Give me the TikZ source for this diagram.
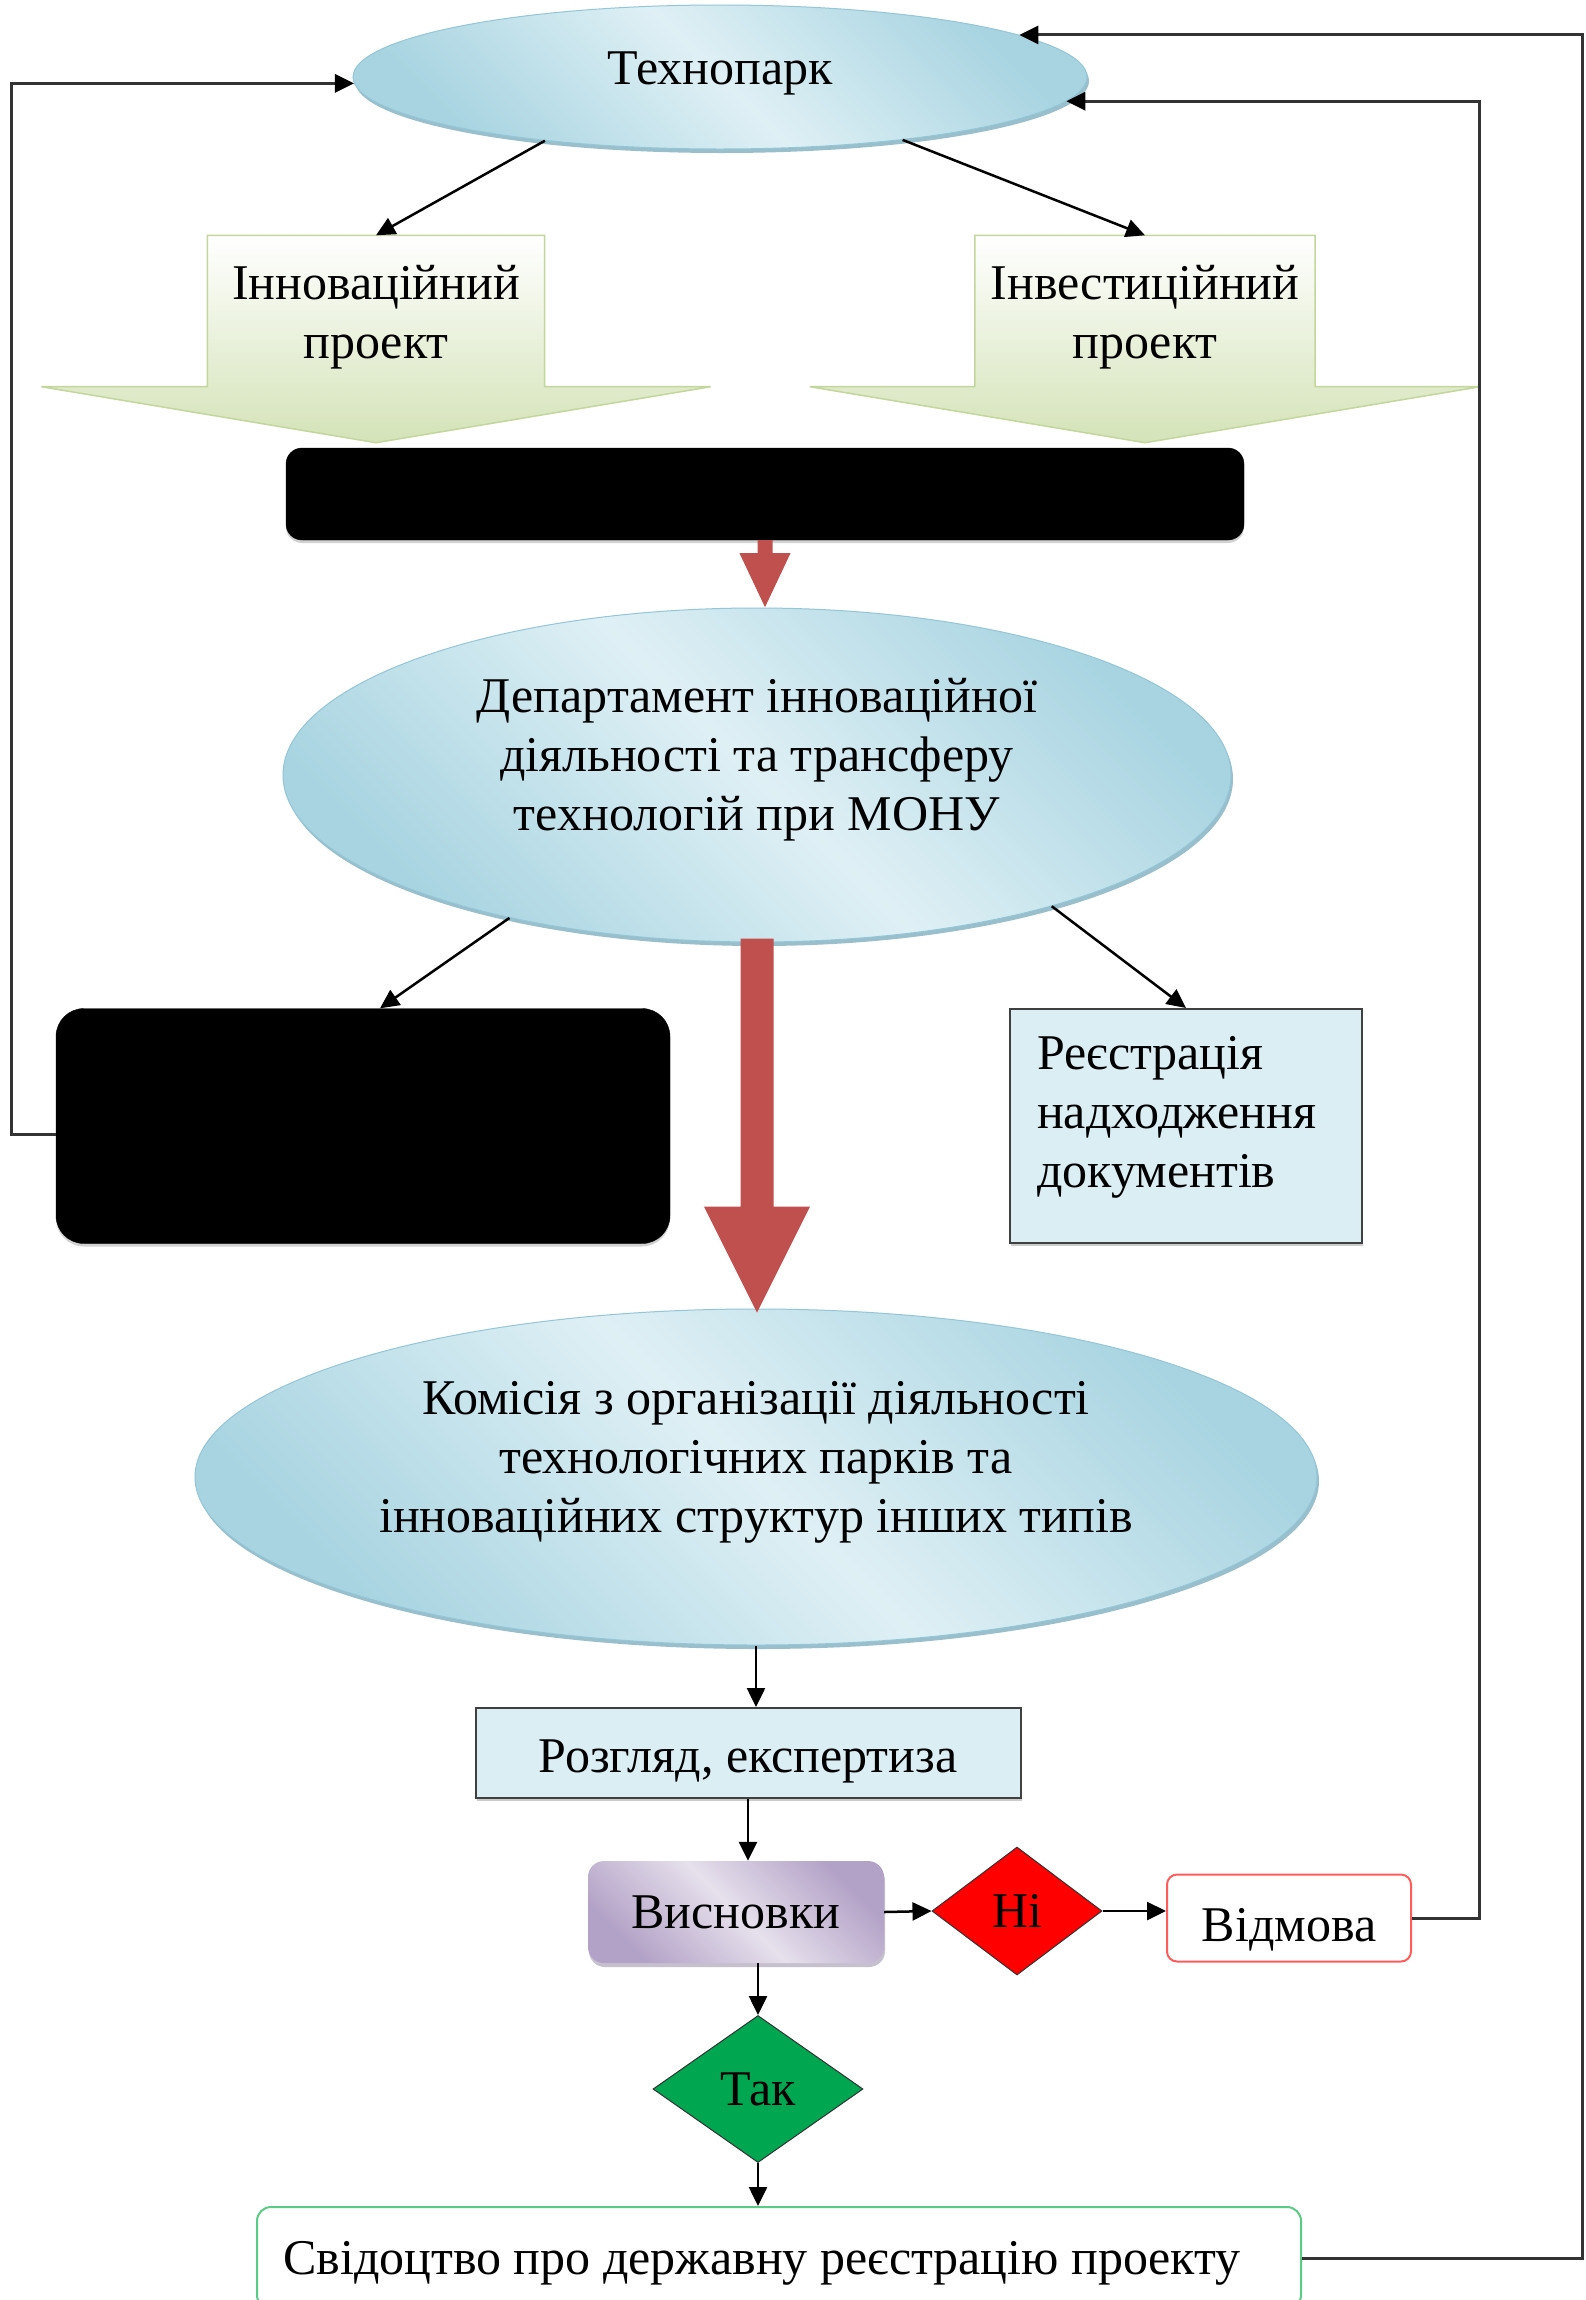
\documentclass[tikz,border=0pt]{standalone}
\usepackage{fontspec}
\setmainfont{Liberation Serif}
\usetikzlibrary{shapes.geometric,arrows.meta,shadows,calc,backgrounds}

\definecolor{ellLight}{HTML}{DFF0F5}
\definecolor{ellDark}{HTML}{A8D4E1}
\definecolor{ellEdge}{HTML}{93C6D6}
\definecolor{ellShadow}{HTML}{7FAFBF}
\definecolor{boxBlue}{HTML}{DBEEF4}
\definecolor{arrRed}{HTML}{C0504D}
\definecolor{blkGreen}{HTML}{D4E3B8}
\definecolor{blkEdge}{HTML}{C3D69B}
\definecolor{visLight}{HTML}{E6E0EC}
\definecolor{visDark}{HTML}{B3A2C7}
\definecolor{niRed}{HTML}{FF0000}
\definecolor{takGreen}{HTML}{00A650}
\definecolor{vidRed}{HTML}{FF5B5B}
\definecolor{svGreen}{HTML}{5ACB84}

\begin{document}
\begin{tikzpicture}[x=1pt,y=-1pt,
  every node/.style={font=\fontsize{50}{59}\selectfont},
  txt/.style={align=center, inner sep=0pt},
  link/.style={-{Triangle[length=19pt,width=18pt]}, line width=2.5pt, black},
  loopline/.style={-{Triangle[length=19pt,width=18pt,color=black]}, line width=3pt, black!80},
  blueell/.style={ellipse, inner sep=0pt, draw=ellEdge, line width=1pt,
      top color=ellDark, bottom color=ellDark, middle color=ellLight, shading angle=-45,
      drop shadow={shadow xshift=2pt, shadow yshift=-4pt, fill=ellShadow, opacity=0.8}},
  blackbox/.style={rectangle, fill=black, draw=black, inner sep=0pt,
      drop shadow={shadow xshift=0pt, shadow yshift=-3pt, opacity=0.35}},
  bluebox/.style={rectangle, fill=boxBlue, draw=black!75, line width=2pt, inner sep=0pt,
      drop shadow={shadow xshift=1pt, shadow yshift=-3pt, opacity=0.4}},
  blockbody/.style={rectangle, inner sep=0pt},
  visbox/.style={rectangle, rounded corners=16pt, inner sep=0pt,
      top color=visDark, bottom color=visDark, middle color=visLight, shading angle=-45,
      drop shadow={shadow xshift=1pt, shadow yshift=-4pt, fill=visDark!80!black, opacity=0.5}},
  decision/.style={diamond, draw=black!80, line width=1pt, inner sep=0pt},
  outcome/.style={rectangle, rounded corners=10pt, fill=white, line width=2pt, inner sep=0pt}
]
\useasboundingbox (0,0) rectangle (1586,2300);

% top ellipse
\node[blueell, minimum width=734pt, minimum height=144pt] (tech) at (720,77) {};
\node[txt] (techtxt) at ([yshift=4pt]tech.center) {Технопарк};

% two block arrows
\node[blockbody, minimum width=337pt, minimum height=151pt] (inno) at (376,311) {};
\node[blockbody, minimum width=340pt, minimum height=151pt] (inve) at (1145,311) {};
\begin{scope}[on background layer]
  \fill[white] (0,0) rectangle (1586,2300);
  \shade[top color=white, bottom color=blkGreen, draw=blkEdge, line width=1.5pt]
    (inno.north west) -- (inno.south west) -- ++(-166,0) -- ($(inno.south)+(0,56)$)
    -- ($(inno.south east)+(166,0)$) -- (inno.south east) -- (inno.north east) -- cycle;
  \shade[top color=white, bottom color=blkGreen, draw=blkEdge, line width=1.5pt]
    (inve.north west) -- (inve.south west) -- ++(-165,0) -- ($(inve.south)+(0,56)$)
    -- ($(inve.south east)+(165,0)$) -- (inve.south east) -- (inve.north east) -- cycle;
\end{scope}
\node[txt] (innotxt) at ([yshift=-6pt]inno.center) {Інноваційний\\проект};
\node[txt] (invetxt) at ([yshift=-6pt]inve.center) {Інвестиційний\\проект};

% upper black bar
\node[blackbox, rounded corners=16pt, minimum width=958pt, minimum height=92pt] (blk1) at (765,494) {};

% department ellipse
\node[blueell, minimum width=948pt, minimum height=334pt] (dept) at (757,775) {};
\node[txt] (depttxt) at ([yshift=15pt]dept.center) {Департамент інноваційної\\діяльності та трансферу\\технологій при МОНУ};

\fill[arrRed] (blk1.south) ++(-7.5,0) -- ++(0,13) -- ++(-18,0) -- ++(25.5,54)
  -- ++(25.5,-54) -- ++(-18,0) -- ++(0,-13) -- cycle;

% middle row
\node[blackbox, rounded corners=28pt, minimum width=614pt, minimum height=235pt] (blk2) at (363,1126) {};
\node[bluebox, minimum width=352pt, minimum height=234pt] (reg) at (1186,1126) {};
\node[txt, align=left, anchor=west] (regtxt) at ([xshift=28pt,yshift=9pt]reg.west) {Реєстрація\\надходження\\документів};

% commission ellipse
\node[blueell, minimum width=1122pt, minimum height=336pt] (kom) at (756,1477) {};
\node[txt] (komtxt) at ([yshift=15pt]kom.center) {Комісія з організації діяльності\\технологічних парків та\\інноваційних структур інших типів};

\fill[arrRed] (dept.south) ++(-16.5,-4) -- ++(0,268) -- ++(-36.5,0) -- ++(53,106)
  -- ++(53,-106) -- ++(-36.5,0) -- ++(0,-268) -- cycle;

% lower chain
\node[bluebox, minimum width=545pt, minimum height=90pt, text height=38pt, text depth=0pt] (rozg) at (748,1753) {Розгляд, експертиза};
\node[visbox, minimum width=296pt, minimum height=102pt] (visn) at (736,1912) {Висновки};
\node[decision, fill=niRed, minimum width=170pt, minimum height=128pt] (ni) at (1017,1911) {Ні};
\node[outcome, draw=vidRed, minimum width=244pt, minimum height=87pt, text height=46pt, text depth=0pt] (vidm) at (1289,1918) {Відмова};
\node[decision, fill=takGreen, minimum width=210pt, minimum height=147pt] (tak) at (758,2089) {Так};
\node[outcome, draw=svGreen, rounded corners=14pt, minimum width=1044pt, minimum height=102pt] (svid) at (779,2258) {};
\node[txt, anchor=west, text depth=0pt] (svidtxt) at ([xshift=27pt]svid.west) {Свідоцтво про державну реєстрацію проекту};

% connectors
\draw[link] (tech.200) -- (inno.north);
\draw[link] (tech.341) -- (inve.north);
\draw[link] (dept.210) -- ([xshift=17pt]blk2.north);
\draw[link] (dept.336) -- (reg.north);
\draw[link] (kom.south) -- (kom.south |- rozg.north);
\draw[link] (rozg.south) -- (rozg.south |- visn.north);
\draw[link] (visn.east) -- (ni.west);
\draw[link] (ni.east) -- (ni.east -| vidm.west);
\draw[link] (tak.north |- visn.south) -- (tak.north);
\draw[link] (tak.south) -- (tak.south |- svid.north);

% feedback loops
\draw[loopline] ([yshift=-8pt]blk2.west) -- ++(-44,0) |- (tech.181);
\draw[loopline] (vidm.east) -- ++(67,0) |- (tech.356);
\draw[loopline] (svid.east) -- ++(280,0) |- (tech.8);
\end{tikzpicture}
\end{document}
